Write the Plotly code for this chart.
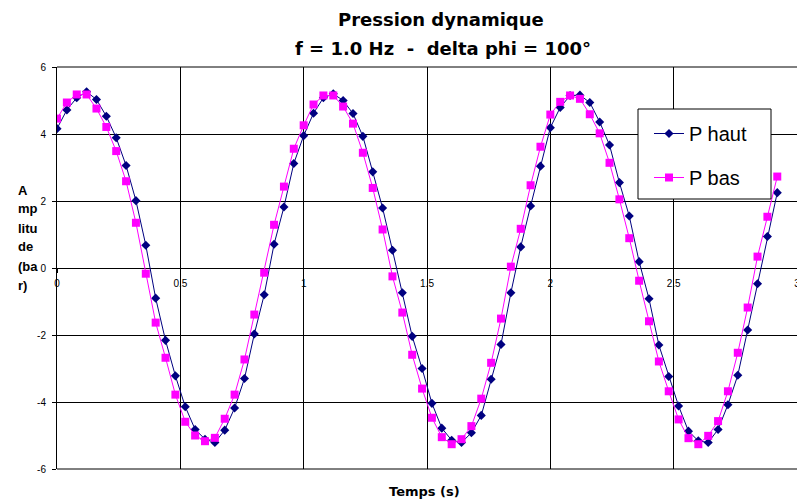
import plotly.graph_objects as go

# ---- data ----
temps = [0.00, 0.04, 0.08, 0.12, 0.16, 0.20, 0.24, 0.28, 0.32, 0.36,
         0.40, 0.44, 0.48, 0.52, 0.56, 0.60, 0.64, 0.68, 0.72, 0.76,
         0.80, 0.84, 0.88, 0.92, 0.96, 1.00, 1.04, 1.08, 1.12, 1.16,
         1.20, 1.24, 1.28, 1.32, 1.36, 1.40, 1.44, 1.48, 1.52, 1.56,
         1.60, 1.64, 1.68, 1.72, 1.76, 1.80, 1.84, 1.88, 1.92, 1.96,
         2.00, 2.04, 2.08, 2.12, 2.16, 2.20, 2.24, 2.28, 2.32, 2.36,
         2.40, 2.44, 2.48, 2.52, 2.56, 2.60, 2.64, 2.68, 2.72, 2.76,
         2.80, 2.84, 2.88, 2.92]

p_haut = [4.16, 4.72, 5.08, 5.26, 5.03, 4.53, 3.89, 3.06, 2.01, 0.68,
          -0.90, -2.16, -3.22, -4.14, -4.82, -5.11, -5.21, -4.84, -4.18, -3.30,
          -1.97, -0.80, 0.71, 1.82, 3.12, 3.95, 4.62, 5.08, 5.20, 5.00,
          4.61, 3.93, 2.87, 1.79, 0.53, -0.74, -2.04, -3.00, -4.04, -4.78,
          -5.14, -5.21, -4.92, -4.40, -3.32, -2.28, -0.74, 0.63, 1.85, 3.04,
          4.19, 4.79, 5.15, 5.16, 4.94, 4.36, 3.67, 2.55, 1.55, 0.19,
          -0.92, -2.30, -3.24, -4.12, -4.87, -5.16, -5.21, -4.82, -4.08, -3.20,
          -1.85, -0.47, 0.94, 2.25]

p_bas = [4.46, 4.94, 5.18, 5.18, 4.76, 4.21, 3.49, 2.59, 1.35, -0.17,
         -1.63, -2.68, -3.78, -4.59, -5.00, -5.17, -5.07, -4.50, -3.78, -2.73,
         -1.39, -0.14, 1.29, 2.43, 3.56, 4.26, 4.88, 5.15, 5.15, 4.82,
         4.31, 3.44, 2.39, 1.15, -0.25, -1.33, -2.59, -3.60, -4.47, -5.05,
         -5.26, -5.11, -4.72, -3.90, -2.83, -1.51, 0.04, 1.17, 2.47, 3.62,
         4.58, 4.96, 5.15, 5.05, 4.59, 4.02, 3.14, 2.05, 0.89, -0.38,
         -1.59, -2.79, -3.68, -4.52, -5.08, -5.26, -5.01, -4.57, -3.68, -2.53,
         -1.18, 0.34, 1.53, 2.73]

x_ticks = [0, 0.5, 1, 1.5, 2, 2.5, 3]
x_tick_labels = ["0", "0.5", "1", "1.5", "2", "2.5", "3"]
y_ticks = [-6, -4, -2, 0, 2, 4, 6]
y_tick_labels = ["-6", "-4", "-2", "0", "2", "4", "6"]

title_lines = ["Pression dynamique", "f = 1.0 Hz  -  delta phi = 100°"]
y_title_lines = ["A", "mp", "litu", "de", "(ba", "r)"]
x_title = "Temps (s)"

# ---- layout geometry (pixels) ----
W, H = 797, 504
ML, MR, MT, MB = 57, 0, 67, 35
PW, PH = W - ML - MR, H - MT - MB


def px_x(x):
    return (x - ML) / PW


def px_y(y):
    return (H - MB - y) / PH


fig = go.Figure()
fig.add_trace(go.Scatter(
    x=temps, y=p_haut, name="P haut", mode="lines+markers",
    line=dict(color="#000080", width=1),
    marker=dict(symbol="diamond", size=7, color="#000080"),
    legendgroup="a",
))
fig.add_trace(go.Scatter(
    x=temps, y=p_bas, name="P bas", mode="lines+markers",
    line=dict(color="#FF00FF", width=1),
    marker=dict(symbol="square", size=8, color="#FF00FF"),
    legendgroup="b",
))

annotations = []
annotations.append(dict(text="<b>%s</b>" % title_lines[0], x=px_x(441), y=px_y(20),
                        xref="paper", yref="paper", showarrow=False,
                        xanchor="center", yanchor="middle",
                        font=dict(family="DejaVu Sans", size=18, color="black")))
annotations.append(dict(text="<b>%s</b>" % title_lines[1], x=px_x(443), y=px_y(48),
                        xref="paper", yref="paper", showarrow=False,
                        xanchor="center", yanchor="middle",
                        font=dict(family="DejaVu Sans", size=18, color="black")))
for i, t in enumerate(y_title_lines):
    annotations.append(dict(text="<b>%s</b>" % t, x=px_x(16), y=px_y(190 + 19 * i),
                            xref="paper", yref="paper", showarrow=False,
                            xanchor="left", yanchor="middle", align="left",
                            font=dict(family="Liberation Sans", size=13, color="black")))
annotations.append(dict(text="<b>%s</b>" % x_title, x=px_x(424), y=px_y(492),
                        xref="paper", yref="paper", showarrow=False,
                        xanchor="center", yanchor="middle",
                        font=dict(family="DejaVu Sans", size=13, color="black")))

shapes = [
    dict(type="line", xref="paper", yref="paper", x0=0, x1=1, y0=1, y1=1,
         line=dict(color="black", width=1), layer="below"),
    dict(type="line", xref="paper", yref="paper", x0=0, x1=1, y0=0, y1=0,
         line=dict(color="black", width=1), layer="below"),
    dict(type="rect", xref="paper", yref="paper",
         x0=px_x(638), x1=px_x(771), y0=px_y(199), y1=px_y(109),
         line=dict(color="black", width=1), fillcolor="white", layer="above"),
]

fig.update_layout(
    width=W, height=H,
    margin=dict(l=ML, r=MR, t=MT, b=MB, pad=0),
    paper_bgcolor="white", plot_bgcolor="white",
    template="none",
    showlegend=True,
    legend=dict(x=px_x(649), y=px_y(114), xanchor="left", yanchor="top",
                bgcolor="rgba(0,0,0,0)", borderwidth=0,
                font=dict(family="Liberation Sans", size=20, color="black"),
                traceorder="grouped", tracegroupgap=15),
    annotations=annotations,
    shapes=shapes,
    xaxis=dict(range=[0, 3], tickvals=x_ticks, ticktext=x_tick_labels,
               showgrid=True, gridcolor="black", gridwidth=1,
               zeroline=False, showline=False,
               anchor="free", position=0.5,
               ticks="outside", ticklen=4, tickcolor="black", tickwidth=1,
               ticklabelstandoff=2, ticklabeloverflow="allow",
               tickfont=dict(family="Liberation Sans", size=10, color="black"),
               automargin=False, fixedrange=True),
    yaxis=dict(range=[-6, 6], tickvals=y_ticks, ticktext=y_tick_labels,
               showgrid=True, gridcolor="black", gridwidth=1,
               zeroline=False, showline=True, linecolor="black", linewidth=1,
               ticks="outside", ticklen=4, tickcolor="black", tickwidth=1,
               ticklabelstandoff=4,
               tickfont=dict(family="Liberation Sans", size=10, color="black"),
               automargin=False, fixedrange=True),
)

fig.write_html(
    "out.html",
    config={"displayModeBar": False},
    post_script="document.body.style.margin='0';document.body.style.overflow='hidden';",
)
